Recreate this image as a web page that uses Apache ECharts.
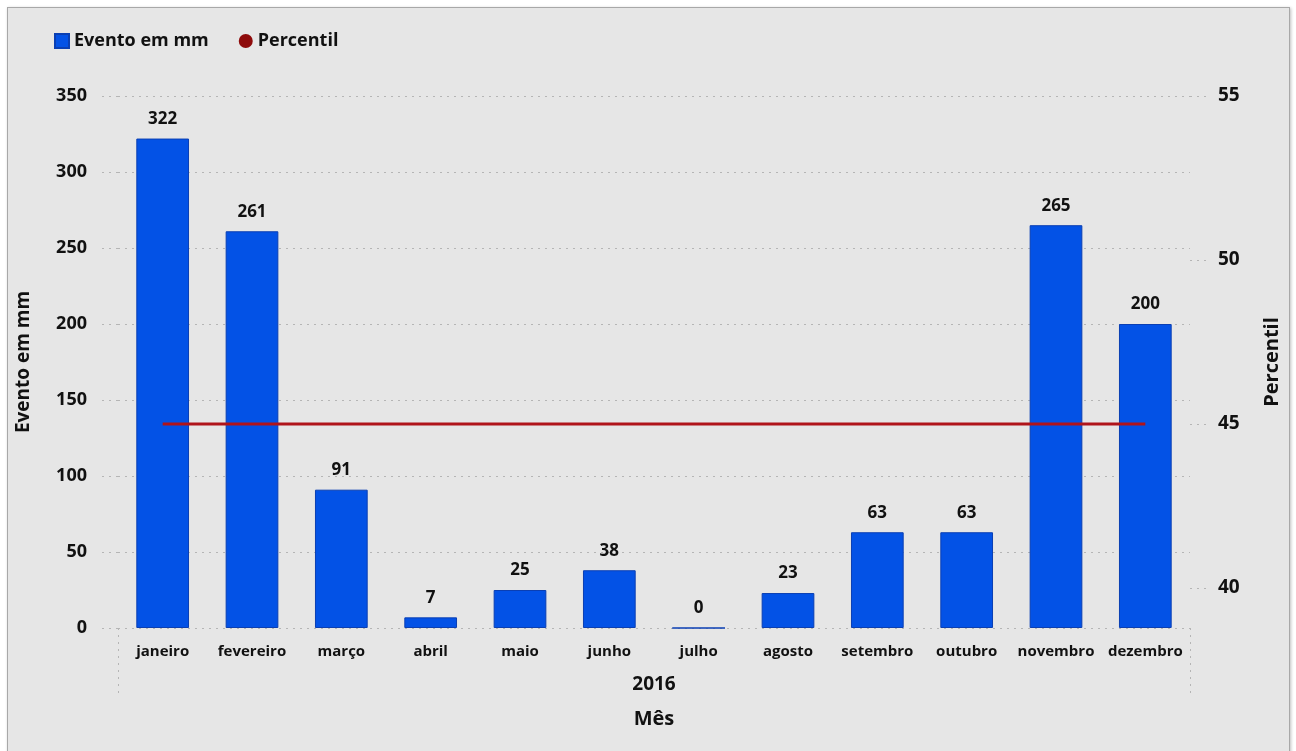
<!DOCTYPE html>
<html>
<head>
<meta charset="utf-8">
<script src="https://cdn.jsdelivr.net/npm/echarts@6/dist/echarts.min.js"></script>
<style>
html,body{margin:0;padding:0;background:#ffffff;width:1296px;height:751px;overflow:hidden;}
#frame{position:absolute;left:7px;top:7px;width:1281px;height:750px;background:#e6e6e6;border:1px solid #a8a8a8;box-shadow:1px 1px 3px rgba(0,0,0,0.25);}
#chart{position:absolute;left:-8px;top:-8px;width:1296px;height:751px;}
</style>
</head>
<body>
<div id="frame"><div id="chart"></div></div>
<script>
const months = ['janeiro','fevereiro','março','abril','maio','junho','julho','agosto','setembro','outubro','novembro','dezembro'];
const eventoMm = [322,261,91,7,25,38,0,23,63,63,265,200];
const percentil = [45,45,45,45,45,45,45,45,45,45,45,45];
const yearLabels = ['2016'];
const rightTicks = [40,45,50,55];

const FONT = '"Open Sans", "Noto Sans", sans-serif';
const TXT = '#111111';
const dotted = {color:'#b5b5b5', width:1, type:[2,5]};

const chart = echarts.init(document.getElementById('chart'), null, {renderer:'canvas'});
chart.setOption({
  backgroundColor:'transparent',
  animation:false,
  textStyle:{fontFamily:FONT},
  legend:{
    left:49, top:27, itemGap:30, itemWidth:14, itemHeight:14,
    textStyle:{fontFamily:FONT, fontWeight:'bold', fontSize:18, color:TXT},
    data:[{name:'Evento em mm', icon:'rect'},{name:'Percentil', icon:'circle'}]
  },
  grid:{left:118, right:106, top:96, bottom:123},
  xAxis:[{
    type:'category', data:months, position:'bottom',
    axisLine:{show:false}, axisTick:{show:false},
    axisLabel:{margin:16, fontFamily:FONT, fontWeight:'bold', fontSize:15, color:TXT, interval:0},
    name:'Mês', nameLocation:'middle', nameGap:81,
    nameTextStyle:{fontFamily:FONT, fontWeight:'bold', fontSize:20, color:TXT}
  },{
    type:'category', data:yearLabels, position:'bottom', gridIndex:0,
    axisLine:{show:false},
    axisTick:{show:true, length:67, lineStyle:dotted},
    axisLabel:{margin:47, fontFamily:FONT, fontWeight:'bold', fontSize:19, color:TXT}
  }],
  yAxis:[{
    type:'value', min:0, max:350, interval:50, position:'left',
    axisLine:{show:false},
    axisTick:{show:true, length:21, lineStyle:dotted},
    splitLine:{show:true, lineStyle:dotted},
    axisLabel:{margin:31, fontFamily:FONT, fontWeight:'bold', fontSize:18, color:TXT},
    name:'Evento em mm', nameLocation:'middle', nameRotate:90, nameGap:85,
    nameTextStyle:{fontFamily:FONT, fontWeight:'bold', fontSize:19, color:TXT}
  },{
    type:'value', min:38.78, max:55, position:'right',
    axisLine:{show:false},
    axisTick:{show:true, length:17, lineStyle:dotted, customValues:rightTicks},
    splitLine:{show:false},
    axisLabel:{margin:28, fontFamily:FONT, fontWeight:'bold', fontSize:19, color:TXT, customValues:rightTicks},
    name:'Percentil', nameLocation:'middle', nameRotate:90, nameGap:72,
    nameTextStyle:{fontFamily:FONT, fontWeight:'bold', fontSize:20, color:TXT}
  }],
  series:[{
    name:'Evento em mm', type:'bar', data:eventoMm, barWidth:'59%',
    xAxisIndex:0, yAxisIndex:0,
    itemStyle:{color:'#0352e6', borderColor:'#0a3fb3', borderWidth:1},
    label:{show:true, position:'top', distance:11, fontFamily:FONT, fontWeight:'bold', fontSize:17, color:TXT}
  },{
    name:'Percentil', type:'line', data:percentil,
    xAxisIndex:0, yAxisIndex:1,
    symbol:'none', lineStyle:{color:'#b0141a', width:3},
    itemStyle:{color:'#8e0b0b'}
  }]
});
</script>
</body>
</html>
